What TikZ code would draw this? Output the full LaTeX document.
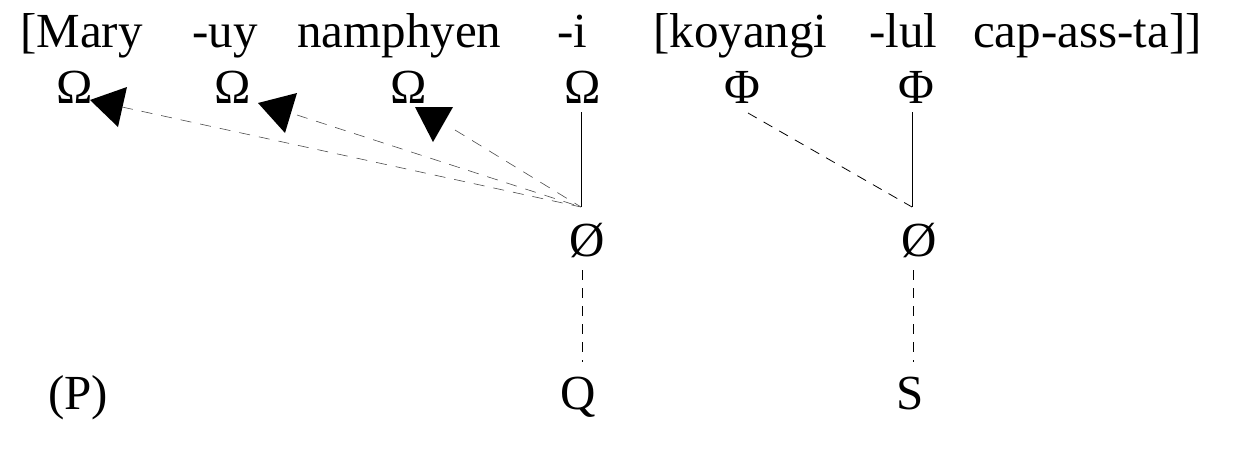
\documentclass[tikz,border=0pt]{standalone}
\usepackage{fontspec}
\setmainfont{Liberation Serif}
\begin{document}
\begin{tikzpicture}[x=1pt,y=-1pt,
  txt/.style={inner sep=0pt,anchor=base,font=\fontsize{49}{58}\selectfont},
  word/.style={txt,anchor=base west},
  solidlink/.style={draw=black,line width=0.8pt},
  dashlink/.style={draw=black,line width=0.8pt,dash pattern=on 10pt off 8pt},
  faintlink/.style={draw=black!70,line width=0.6pt,dash pattern=on 11pt off 9pt},
  headtri/.style={fill=black,draw=none}]
\useasboundingbox (0,0) rectangle (1238,471);
% top line
\node[word] (w1) at (20,47) {[Mary};
\node[word] (w2) at (192,47) {-uy};
\node[word] (w3) at (297,47) {namphyen};
\node[word] (w4) at (557,47) {-i};
\node[word] (w5) at (653,47) {[koyangi};
\node[word] (w6) at (869,47) {-lul};
\node[word] (w7) at (973,47) {cap-ass-ta]]};
% tiers
\node[txt] (o1) at (75,103) {Ω};
\node[txt] (o2) at (233,103) {Ω};
\node[txt] (o3) at (409,103) {Ω};
\node[txt] (o4) at (583,103) {Ω};
\node[txt] (f1) at (742,103) {Φ};
\node[txt] (f2) at (916,103) {Φ};
\node[txt] (z1) at (587,256) {Ø};
\node[txt] (z2) at (919,256) {Ø};
\node[txt] (q) at (578,409) {Q};
\node[txt] (s) at (910,409) {S};
\node[txt] (p) at (78,409) {(P)};
% hubs and line ends
\coordinate (h1) at (581,207);
\coordinate (h2) at (912,207);
\coordinate (e1) at (122,107);
\coordinate (e2) at (297,115);
\coordinate (e3) at (455,130);
\coordinate (e4) at (748,113);
% arrowheads
\path[headtri] (90,100) -- (127,87) -- (118,127) -- cycle;
\path[headtri] (258,103) -- (297,93) -- (285,133) -- cycle;
\path[headtri] (415,107) -- (453,107) -- (433,142) -- cycle;
% connectors
\draw[solidlink] (h1 |- 0,112) -- (h1);
\draw[faintlink] (e1) -- (h1);
\draw[faintlink] (e2) -- (h1);
\draw[faintlink] (e3) -- (h1);
\draw[dashlink] (e4) -- (h2);
\draw[solidlink] (h2 |- 0,112) -- (h2);
\draw[dashlink] (582,270) -- (582,362);
\draw[dashlink] (913,270) -- (913,362);
\end{tikzpicture}
\end{document}
